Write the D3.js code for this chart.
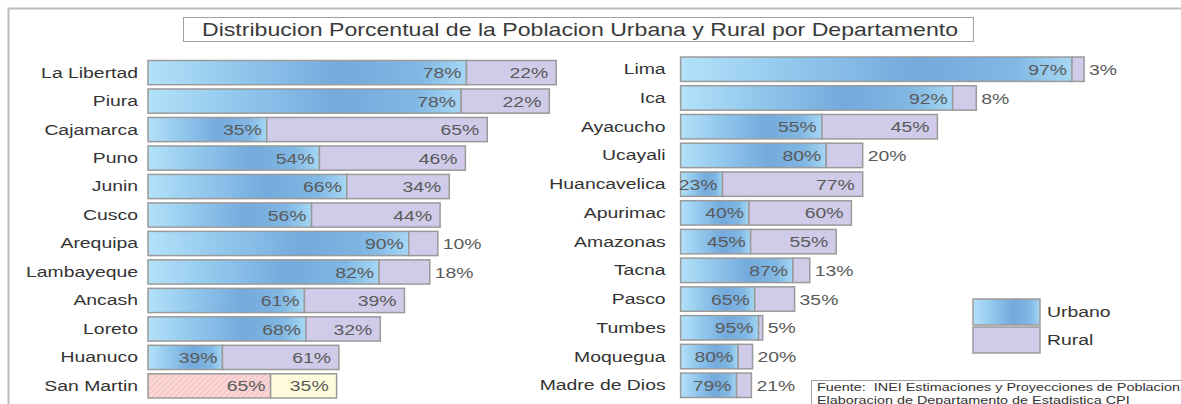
<!DOCTYPE html>
<html>
<head>
<meta charset="utf-8">
<script src="https://cdn.jsdelivr.net/npm/d3@7"></script>
<style>
  body { margin: 0; background: #fff; }
  svg { display: block; font-family: "Liberation Sans", Arial, sans-serif; }
</style>
</head>
<body>
<div id="chart"></div>
<script>
var svgwidth = 1181;
var svgheight = 404;

// left panel
var leftNames = ["La Libertad", "Piura", "Cajamarca", "Puno", "Junin", "Cusco", "Arequipa", "Lambayeque", "Ancash", "Loreto", "Huanuco", "San Martin"];
var leftUrban = [78, 78, 35, 54, 66, 56, 90, 82, 61, 68, 39, 65];
var leftRural = [22, 22, 65, 46, 34, 44, 10, 18, 39, 32, 61, 35];
var leftTotal = [1775, 1745, 1475, 1380, 1310, 1270, 1260, 1225, 1115, 1010, 830, 820]; // miles hab. (estimado)

// right panel
var rightNames = ["Lima", "Ica", "Ayacucho", "Ucayali", "Huancavelica", "Apurimac", "Amazonas", "Tacna", "Pasco", "Tumbes", "Moquegua", "Madre de Dios"];
var rightUrban = [97, 92, 55, 80, 23, 40, 45, 87, 65, 95, 80, 79];
var rightRural = [3, 8, 45, 20, 77, 60, 55, 13, 35, 5, 20, 21];
var rightTotal = [1037, 760, 660, 468, 468, 439, 400, 332, 293, 211, 185, 182];

var highlighted = "San Martin";
var legendLabels = ["Urbano", "Rural"];
var title = "Distribucion Porcentual de la Poblacion Urbana y Rural por Departamento";
var sourceLines = ["Fuente:  INEI Estimaciones y Proyecciones de Poblacion", "Elaboracion de Departamento de Estadistica CPI"];

var SX = 1.25; // the original type is set wide

var svg = d3.select("#chart")
            .append("svg")
            .attr("width", svgwidth)
            .attr("height", svgheight);

var defs = svg.append("defs");

var grad = defs.append("linearGradient")
    .attr("id", "urbGrad")
    .attr("x1", "0%").attr("x2", "100%").attr("y1", "0%").attr("y2", "0%");
grad.append("stop").attr("offset", "0%").attr("stop-color", "#b3e2f9");
grad.append("stop").attr("offset", "30%").attr("stop-color", "#90c6ec");
grad.append("stop").attr("offset", "60%").attr("stop-color", "#74aadc");
grad.append("stop").attr("offset", "85%").attr("stop-color", "#80b7e3");
grad.append("stop").attr("offset", "100%").attr("stop-color", "#a6d7f3");

var hatch = defs.append("pattern")
    .attr("id", "hatch")
    .attr("patternUnits", "userSpaceOnUse")
    .attr("width", 4).attr("height", 4)
    .attr("patternTransform", "rotate(45)");
hatch.append("rect").attr("width", 4).attr("height", 4).attr("fill", "#fad6d6");
hatch.append("line").attr("x1", 0).attr("y1", 0).attr("x2", 0).attr("y2", 4)
    .attr("stroke", "#eeb0b0").attr("stroke-width", 1.2);

function wideText(sel, x, y, sx) {
    return sel.attr("x", 0).attr("y", 0)
        .attr("transform", "translate(" + x + "," + y + ") scale(" + sx + ",1)");
}

// outer frame
svg.append("path")
    .attr("d", "M8.5," + svgheight + "V8.5H" + svgwidth)
    .attr("fill", "none")
    .attr("stroke", "#bdbdbd")
    .attr("stroke-width", 2);

// title
svg.append("rect")
    .attr("x", 183.5).attr("y", 17.5)
    .attr("width", 790).attr("height", 24)
    .attr("fill", "#fff")
    .attr("stroke", "#a0a0a0");
wideText(svg.append("text"), 580, 35.5, 1.32)
    .attr("text-anchor", "middle")
    .style("font-size", "17.5px")
    .style("fill", "#3a3a3a")
    .text(title);

function drawPanel(names, urban, rural, total, maxVal, x0, x1, y0, y1, labelPad) {
    var data = names.map(function(n, i) {
        return { name: n, urban: urban[i], rural: rural[i], total: total[i] };
    });

    var xscale = d3.scaleLinear().domain([0, maxVal]).range([x0, x1]);
    var yscale = d3.scaleBand().domain(names).range([y0, y1]).paddingInner(0.15);

    var yaxis = d3.axisLeft(yscale).tickSize(0).tickPadding(0);
    var ax = svg.append("g")
        .attr("transform", "translate(" + x0 + ",0)")
        .call(yaxis);
    ax.select(".domain").remove();
    ax.selectAll("text")
        .attr("x", 0)
        .attr("transform", "translate(" + (-labelPad) + ",0) scale(" + SX + ",1)")
        .style("font-size", "15.5px")
        .style("font-family", "Liberation Sans, Arial, sans-serif")
        .style("fill", "#333");

    var g = svg.append("g");
    var rows = g.selectAll("g").data(data).join("g");

    var splitX = function(d) { return xscale(d.total * d.urban / 100); };
    var cy = function(d) { return yscale(d.name) + yscale.bandwidth() / 2; };

    rows.append("rect")
        .attr("x", x0)
        .attr("y", d => yscale(d.name))
        .attr("width", d => splitX(d) - x0)
        .attr("height", yscale.bandwidth())
        .attr("fill", d => d.name === highlighted ? "url(#hatch)" : "url(#urbGrad)")
        .attr("stroke", "#9a9a9a")
        .attr("stroke-width", 1.5);

    rows.append("rect")
        .attr("x", d => splitX(d))
        .attr("y", d => yscale(d.name))
        .attr("width", d => xscale(d.total) - splitX(d))
        .attr("height", yscale.bandwidth())
        .attr("fill", d => d.name === highlighted ? "#fdfbdc" : "#cfcbe8")
        .attr("stroke", "#9a9a9a")
        .attr("stroke-width", 1.5);

    rows.append("text")
        .attr("x", 0).attr("y", 0)
        .attr("transform", d => "translate(" + (splitX(d) - 5) + "," + cy(d) + ") scale(" + SX + ",1)")
        .attr("dy", "0.36em")
        .attr("text-anchor", "end")
        .style("font-size", "15.5px")
        .style("fill", "#5a5a5a")
        .text(d => d.urban + "%");

    var outside = function(d) { return xscale(d.total) - splitX(d) < 58; };

    rows.append("text")
        .attr("x", 0).attr("y", 0)
        .attr("transform", function(d) {
            var tx = outside(d) ? xscale(d.total) + 5 : xscale(d.total) - 8;
            return "translate(" + tx + "," + cy(d) + ") scale(" + SX + ",1)";
        })
        .attr("dy", "0.36em")
        .attr("text-anchor", d => outside(d) ? "start" : "end")
        .style("font-size", "15.5px")
        .style("fill", "#5a5a5a")
        .text(d => d.rural + "%");
}

drawPanel(leftNames, leftUrban, leftRural, leftTotal, 2000, 148, 608, 60.5, 398, 10);
drawPanel(rightNames, rightUrban, rightRural, rightTotal, 1100, 680.6, 1108.6, 57, 397.5, 15);

// legend
var legend = svg.append("g");
legend.selectAll("rect")
    .data(legendLabels)
    .join("rect")
    .attr("x", 973)
    .attr("y", (d, i) => 299 + i * 28)
    .attr("width", 67)
    .attr("height", 26)
    .attr("fill", (d, i) => i === 0 ? "url(#urbGrad)" : "#cfcbe8")
    .attr("stroke", "#9a9a9a")
    .attr("stroke-width", 1.5);
legend.selectAll("text")
    .data(legendLabels)
    .join("text")
    .attr("x", 0).attr("y", 0)
    .attr("transform", (d, i) => "translate(1047," + (311 + i * 28) + ") scale(" + SX + ",1)")
    .attr("dy", "0.36em")
    .style("font-size", "15.5px")
    .style("fill", "#333")
    .text(d => d);

// source note
svg.append("rect")
    .attr("x", 811.5).attr("y", 380.5)
    .attr("width", 400).attr("height", 30)
    .attr("fill", "#fff")
    .attr("stroke", "#a0a0a0");
svg.selectAll(".src")
    .data(sourceLines)
    .join("text")
    .attr("class", "src")
    .attr("x", 0).attr("y", 0)
    .attr("transform", (d, i) => "translate(817," + (391 + i * 13) + ") scale(1.31,1)")
    .attr("xml:space", "preserve")
    .style("white-space", "pre")
    .style("font-size", "11px")
    .style("fill", "#333")
    .text(d => d);
</script>
</body>
</html>
